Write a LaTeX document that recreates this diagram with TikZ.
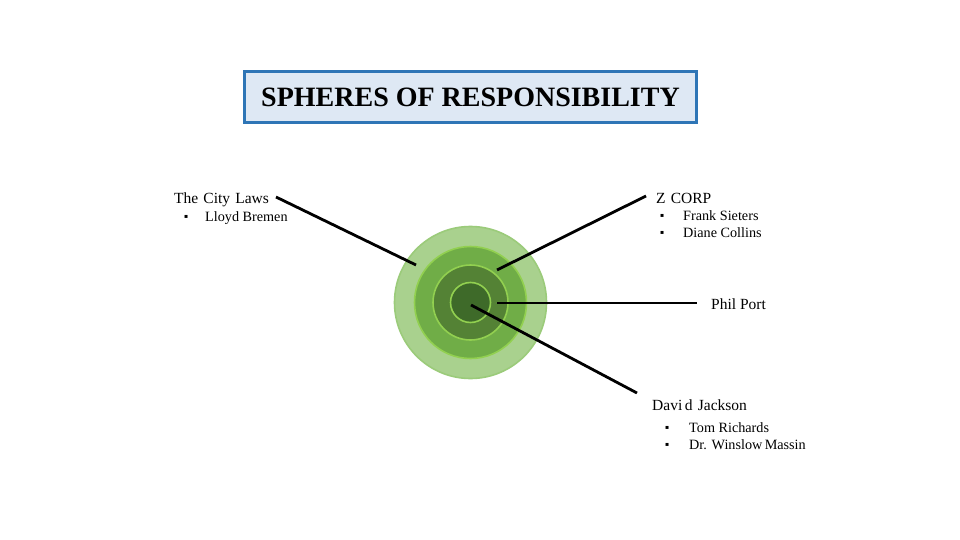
\documentclass[tikz,border=0pt]{standalone}
\usepackage{fontspec}
\setmainfont{Liberation Serif}
\newfontfamily\bulfont{DejaVu Sans}
\newcommand{\sqbul}{\raisebox{2.5pt}{\bulfont\fontsize{6}{7}\selectfont ▪}}
\definecolor{titleblue}{HTML}{2E75B6}
\definecolor{titlefill}{HTML}{DEE8F4}
\definecolor{ringA}{HTML}{A9D18E}
\definecolor{ringAline}{HTML}{9BCB7A}
\definecolor{ringB}{HTML}{70AD47}
\definecolor{ringC}{HTML}{548235}
\definecolor{ringD}{HTML}{3E6A29}
\definecolor{ringline}{HTML}{92D050}
\begin{document}
\begin{tikzpicture}[x=1pt,y=-1pt,
  lbl/.style={anchor=base west,inner sep=0pt,font=\fontsize{15.5}{17}\selectfont},
  item/.style={anchor=base west,inner sep=0pt,font=\fontsize{14.2}{16}\selectfont},
  conn/.style={line width=2.8pt,black},
  ring/.style={line width=1.6pt}]
\useasboundingbox[fill=white] (0,0) rectangle (960,540);
% title
\node[draw=titleblue,line width=3pt,fill=titlefill,minimum width=452pt,minimum height=51pt,inner sep=0pt,
  font=\fontsize{28}{30}\selectfont\bfseries] (title) at (470.5,97) {SPHERES OF RESPONSIBILITY};
% spheres
\node[circle,fill=ringA,draw=ringAline,ring,minimum size=152pt,inner sep=0pt] (s1) at (470.5,302.5) {};
\node[circle,fill=ringB,draw=ringline,ring,minimum size=112pt,inner sep=0pt] (s2) at (470.5,302.5) {};
\node[circle,fill=ringC,draw=ringline,ring,minimum size=75pt,inner sep=0pt] (s3) at (470.5,302.5) {};
\node[circle,fill=ringD,draw=ringline,ring,minimum size=40pt,inner sep=0pt] (s4) at (470.5,302.5) {};
% anchors on spheres
\coordinate (pA) at (416,265);
\coordinate (pB) at (497,270);
\coordinate (pC) at (497,303);
\coordinate (pD) at (471,305);
% labels
\node[lbl] (city) at (174,203) {The\,\,City\,\,Laws};
\node[item] (lloyd) at (184,221) {\makebox[21pt][l]{\sqbul}Lloyd Bremen};
\node[lbl] (zcorp) at (656,203) {Z\,\,CORP};
\node[item] (frank) at (660,220) {\makebox[23pt][l]{\sqbul}Frank Sieters};
\node[item] (diane) at (660,237) {\makebox[23pt][l]{\sqbul}Diane Collins};
\node[lbl] (phil) at (711,309) {Phil Port};
\node[lbl] (david) at (652,410) {Davi\,d\,\,Jackson};
\node[item] (tom) at (665,432) {\makebox[24pt][l]{\sqbul}Tom Richards};
\node[item] (winslow) at (665,449) {\makebox[24pt][l]{\sqbul}Dr. Winslow\,Massin};
% connectors
\coordinate (eA) at (276,197);
\coordinate (eB) at (646,196);
\coordinate (eC) at (697,303);
\coordinate (eD) at (637,393);
\draw[conn] (eA) -- (pA);
\draw[conn] (eB) -- (pB);
\draw[conn] (pC) -- (eC);
\draw[conn] (pD) -- (eD);
\end{tikzpicture}
\end{document}
